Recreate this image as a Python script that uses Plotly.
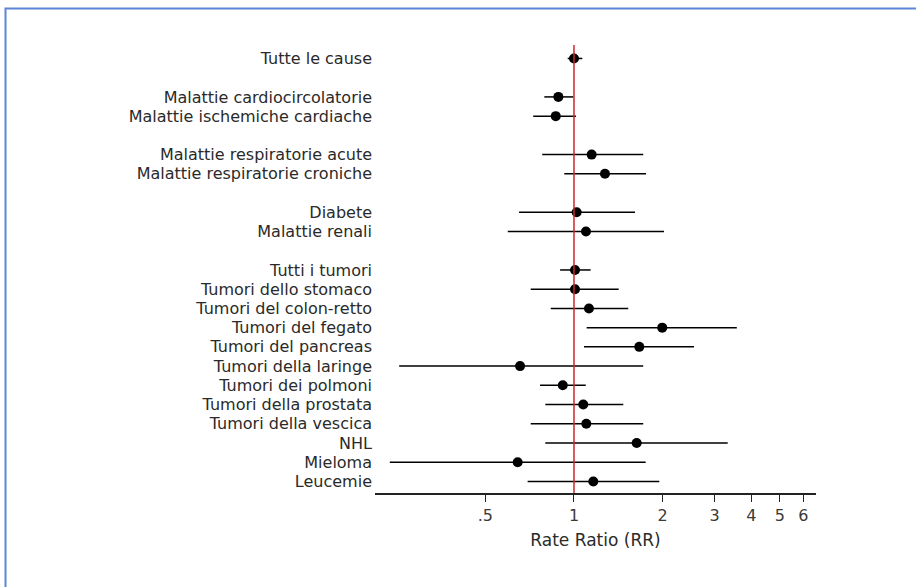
import plotly.graph_objects as go

categories = [
    "Tutte le cause",
    "Malattie cardiocircolatorie", "Malattie ischemiche cardiache",
    "Malattie respiratorie acute", "Malattie respiratorie croniche",
    "Diabete", "Malattie renali",
    "Tutti i tumori", "Tumori dello stomaco", "Tumori del colon-retto",
    "Tumori del fegato", "Tumori del pancreas", "Tumori della laringe",
    "Tumori dei polmoni", "Tumori della prostata", "Tumori della vescica",
    "NHL", "Mieloma", "Leucemie",
]
row_slot = [0, 2, 3, 5, 6, 8, 9, 11, 12, 13, 14, 15, 16, 17, 18, 19, 20, 21, 22]
rr = [1.00, 0.885, 0.867, 1.148, 1.274, 1.021, 1.098,
      1.008, 1.008, 1.124, 1.993, 1.666, 0.656, 0.916, 1.075, 1.101, 1.632, 0.644, 1.163]
lower = [0.952, 0.793, 0.727, 0.780, 0.927, 0.651, 0.596,
         0.897, 0.713, 0.834, 1.104, 1.081, 0.255, 0.767, 0.799, 0.713, 0.799, 0.237, 0.696]
upper = [1.067, 0.995, 1.016, 1.718, 1.756, 1.611, 2.021,
         1.139, 1.418, 1.528, 3.570, 2.555, 1.718, 1.096, 1.470, 1.718, 3.325, 1.751, 1.948]
x_tick_vals = [0.5, 1, 2, 3, 4, 5, 6]
x_tick_text = [".5", "1", "2", "3", "4", "5", "6"]
x_title = "Rate Ratio (RR)"

ypos = [-s for s in row_slot]
err_plus = [u - r for u, r in zip(upper, rr)]
err_minus = [r - l for r, l in zip(rr, lower)]

FONT = "DejaVu Sans"
TXT = "#2a2a2a"
y_top, y_bot = 0.7, -22.6

fig = go.Figure()
fig.add_trace(go.Scatter(
    x=rr, y=ypos, mode="markers",
    marker=dict(color="black", size=10),
    error_x=dict(type="data", symmetric=False, array=err_plus, arrayminus=err_minus,
                 color="black", thickness=1.5, width=0),
    showlegend=False, hoverinfo="skip",
))
fig.add_trace(go.Scatter(
    x=[1, 1], y=[y_bot, y_top], mode="lines",
    line=dict(color="#c8282a", width=1.5), showlegend=False, hoverinfo="skip",
))

fig.update_layout(
    width=916, height=587,
    margin=dict(l=375, r=100, t=45, b=94),
    paper_bgcolor="white", plot_bgcolor="white",
    font=dict(family=FONT, size=16, color=TXT),
    xaxis=dict(
        type="log", range=[-0.6755, 0.8215],
        tickvals=x_tick_vals, ticktext=x_tick_text,
        ticks="outside", ticklen=7, tickwidth=1.2, tickcolor="#222222",
        showline=True, linecolor="#222222", linewidth=1.5,
        showgrid=False, zeroline=False,
        title=dict(text=x_title, font=dict(family=FONT, size=17, color=TXT), standoff=10),
        tickfont=dict(family=FONT, size=16, color="#3a3a3a"),
    ),
    yaxis=dict(
        range=[y_bot, y_top],
        tickvals=ypos, ticktext=categories,
        showline=False, showgrid=False, zeroline=False, ticks="",
        tickfont=dict(family=FONT, size=16, color=TXT),
        ticklabelstandoff=2,
    ),
    shapes=[dict(
        type="rect", xref="paper", yref="paper",
        x0=(5.5 - 375) / 441, x1=(940 - 375) / 441,
        y0=(493 - 610) / 448, y1=(493 - 8.5) / 448,
        line=dict(color="#5b85d6", width=2), fillcolor="rgba(0,0,0,0)", layer="below",
    )],
)

fig.write_html("out.html", config={"displayModeBar": False},
               post_script="document.body.style.margin='0';")
